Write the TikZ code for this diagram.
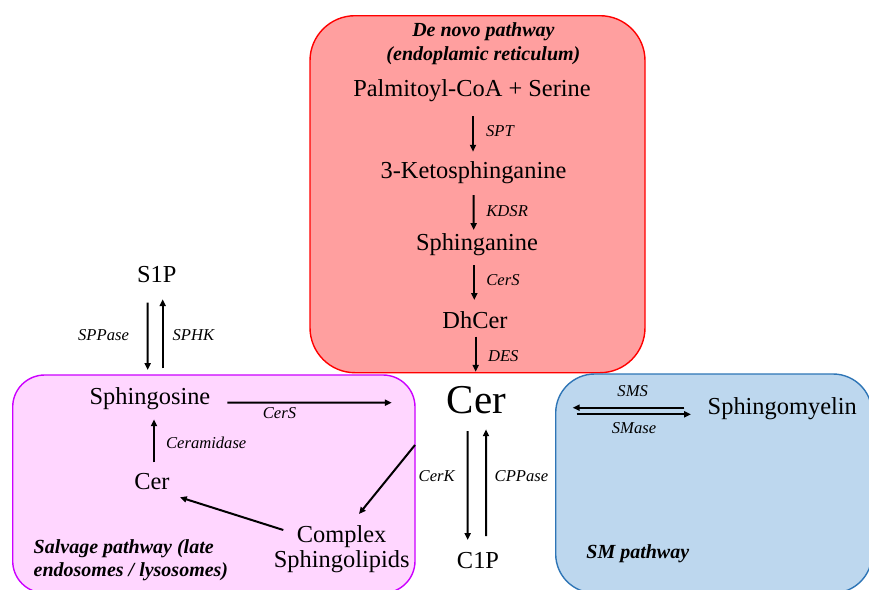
\documentclass[tikz,border=0pt]{standalone}
\usepackage{fontspec}
\setmainfont{Liberation Serif}
\usetikzlibrary{arrows.meta}
\definecolor{redfill}{HTML}{FF9F9F}
\definecolor{redline}{HTML}{FF0000}
\definecolor{pinkfill}{HTML}{FFD6FF}
\definecolor{pinkline}{HTML}{CC00FF}
\definecolor{bluefill}{HTML}{BDD7EE}
\definecolor{blueline}{HTML}{2E75B6}
\begin{document}
\begin{tikzpicture}[x=0.5pt,y=-0.5pt,
  mainlbl/.style={inner sep=0pt, font=\fontsize{12.2}{14}\selectfont, anchor=base},
  enz/.style={inner sep=0pt, font=\fontsize{8.3}{10}\selectfont\itshape},
  ttl/.style={inner sep=0pt, font=\fontsize{10}{11.7}\selectfont\bfseries\itshape},
  arr/.style={line width=1pt, -{Triangle[length=3.4pt,width=3pt]}},
  regionbox/.style={line width=0.7pt}]
\clip (0,0) rectangle (869,590);
\fill[white] (0,0) rectangle (869,590);
% regions
\draw[regionbox, fill=redfill, draw=redline, rounded corners=22.5pt] (310,15.7) rectangle (645,372.7);
\draw[regionbox, fill=pinkfill, draw=pinkline, rounded corners=16pt] (12.7,375) rectangle (415,593);
\draw[regionbox, fill=bluefill, draw=blueline, rounded corners=19.5pt] (555.7,374) rectangle (872,593);
% titles
\node[ttl, align=center] (tdn) at (483.4,43.8) {De novo pathway\\(endoplamic reticulum)};
\node[ttl, align=left, anchor=west] (tsv) at (33.3,560.5) {Salvage pathway (late\\endosomes / lysosomes)};
\node[ttl, anchor=base west] (tsm) at (586,558.3) {SM pathway};
% metabolites
\node[mainlbl] (pc) at (472,96.7) {Palmitoyl-CoA + Serine};
\node[mainlbl] (ks) at (473.5,178.3) {3-Ketosphinganine};
\node[mainlbl] (sa) at (477,250) {Sphinganine};
\node[mainlbl] (dh) at (475,328) {DhCer};
\node[mainlbl, font=\fontsize{20.5}{22}\selectfont] (cer) at (476.3,413.3) {Cer};
\node[mainlbl] (s1p) at (156.7,282.7) {S1P};
\node[mainlbl] (sph) at (150,404) {Sphingosine};
\node[mainlbl] (cerl) at (152,489.3) {Cer};
\node[inner sep=0pt, font=\fontsize{12.2}{12.5}\selectfont, align=center] (csl) at (341.7,549.2) {Complex\\Sphingolipids};
\node[mainlbl] (c1p) at (478,568.3) {C1P};
\node[mainlbl] (sm) at (782.3,414.3) {Sphingomyelin};
% enzyme labels
\node[enz, anchor=base west] (lspt) at (485.7,136.7) {SPT};
\node[enz, anchor=base west] (lkdsr) at (486,216) {KDSR};
\node[enz, anchor=base west] (lcers) at (486,285) {CerS};
\node[enz, anchor=base west] (ldes) at (487.7,361.7) {DES};
\node[enz, anchor=base east] (lsppase) at (129.3,340) {SPPase};
\node[enz, anchor=base west] (lsphk) at (172.3,340) {SPHK};
\node[enz, anchor=base] (lcers2) at (279.5,418) {CerS};
\node[enz, anchor=base west] (lcerase) at (165.7,448.3) {Ceramidase};
\node[enz, anchor=base west] (lcerk) at (418.3,481) {CerK};
\node[enz, anchor=base west] (lcppase) at (494.3,481) {CPPase};
\node[enz, anchor=base] (lsms) at (632.7,396) {SMS};
\node[enz, anchor=base] (lsmase) at (634,433.3) {SMase};
% de novo chain
\draw[arr] ([shift={(1,19.3)}]pc.base) -- ([shift={(-0.5,-26.6)}]ks.base);
\draw[arr] ([shift={(0.2,16.7)}]ks.base) -- ([shift={(-3.3,-20)}]sa.base);
\draw[arr] ([shift={(-2.7,15)}]sa.base) -- ([shift={(-0.7,-28)}]dh.base);
\draw[arr] ([shift={(0.7,8.7)}]dh.base) -- ([shift={(-0.6,-41.6)}]cer.base);
% S1P <-> Sphingosine
\draw[arr] ([shift={(-9,20)}]s1p.base) -- ([shift={(-2.3,-34)}]sph.base);
\draw[arr] ([shift={(12.7,-35.7)}]sph.base) -- ([shift={(6,16.6)}]s1p.base);
% salvage
\draw[arr] ([shift={(77.3,-1.3)}]sph.base) -- ([shift={(-84.6,-10.6)}]cer.base);
\draw[arr] ([shift={(2,-27)}]cerl.base) -- ([shift={(4,15.3)}]sph.base);
\draw[arr] ([shift={(-58.4,-19.2)}]csl.center) -- ([shift={(28,8)}]cerl.base);
\draw[arr] ([shift={(-61.3,31.7)}]cer.base) -- ([shift={(17.3,-35.2)}]csl.center);
% C1P
\draw[arr] ([shift={(-8.6,17.7)}]cer.base) -- ([shift={(-10.3,-28.3)}]c1p.base);
\draw[arr] ([shift={(8,-32.3)}]c1p.base) -- ([shift={(9.7,16)}]cer.base);
% SM
\draw[arr] ([shift={(-98,-6.6)}]sm.base) -- ([shift={(96.4,-5.6)}]cer.base);
\draw[arr] ([shift={(100.4,1)}]cer.base) -- ([shift={(-91.3,0)}]sm.base);
\end{tikzpicture}
\end{document}
